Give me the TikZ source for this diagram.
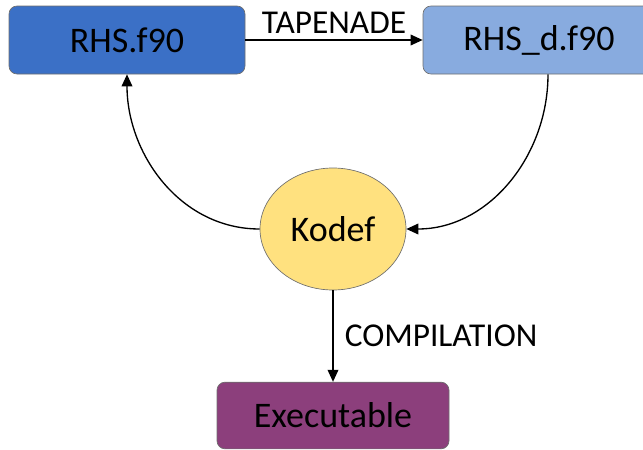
\documentclass[tikz,border=0pt]{standalone}
\usepackage{fontspec}
\setmainfont{Carlito}
\usetikzlibrary{arrows.meta,calc,shapes.geometric}
\definecolor{cdark}{HTML}{3B70C6}
\definecolor{clight}{HTML}{88ABDF}
\definecolor{cyel}{HTML}{FFE17F}
\definecolor{cpur}{HTML}{8C3F7C}
\definecolor{cbord}{HTML}{6E6E6E}
\begin{document}
\begin{tikzpicture}[x=0.75pt,y=-0.75pt,
  boxstyle/.style={draw=cbord, line width=0.5pt, rounded corners=6pt, inner sep=0pt,
    font=\fontsize{27}{32}\selectfont, text=black},
  ellstyle/.style={ellipse, draw=cbord, line width=0.5pt, fill=cyel, inner sep=0pt,
    minimum width=109.5pt, minimum height=91.5pt, font=\fontsize{27}{32}\selectfont},
  conn/.style={line width=1pt, -{Triangle[length=9pt,width=8pt]}},
  lbl/.style={font=\fontsize{25}{30}\selectfont, text=black}]
\clip (0,0) rectangle (643,450);
\node[boxstyle, fill=cdark, minimum width=177pt, minimum height=51pt] (rhs) at (127,40) {RHS.f90};
\node[boxstyle, fill=clight, minimum width=174pt, minimum height=51pt] (rhsd) at (539,40) {RHS\_d.f90};
\node[ellstyle] (kodef) at (333,229) {Kodef};
\node[boxstyle, fill=cpur, minimum width=174pt, minimum height=50pt] (exe) at (333,415.5) {Executable};
\coordinate (rhsdout) at ($(rhsd.south)+(9,0)$);
\draw[conn] (rhs.east) -- node[lbl, above, yshift=1pt] (tap) {TAPENADE} (rhsd.west);
\draw[conn] (kodef.west) to[out=180,in=-90] (rhs.south);
\draw[conn] (rhsdout) to[out=-90,in=0] (kodef.east);
\draw[conn] (kodef.south) -- node[lbl, right, xshift=5pt] (comp) {COMPILATION} (exe.north);
\end{tikzpicture}
\end{document}
